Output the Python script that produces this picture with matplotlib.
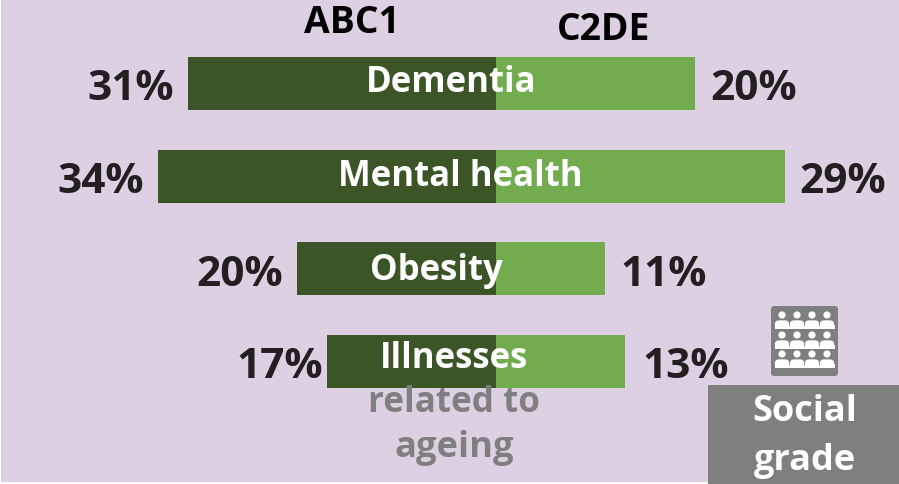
import matplotlib
matplotlib.use("Agg")
import matplotlib.pyplot as plt
from matplotlib.patches import Rectangle, FancyBboxPatch, Circle

categories = ["Dementia", "Mental health", "Obesity", "Illnesses"]
abc1 = [31, 34, 20, 17]
c2de = [20, 29, 11, 13]
series_names = ["ABC1", "C2DE"]
label_center_px = [451, 460, 436, 454]
label_baseline_px = [92, 186, 280, 368]
left_gap_px = [14, 14, 14, 4]
right_gap_px = [15, 15, 15, 17]
BG = "#DDD0E3"; DARK = "#3C5527"; LIGHT = "#72AC4F"; INK = "#231F20"; GREY = "#7F7F7F"
plt.rcParams["font.family"] = ["Open Sans", "DejaVu Sans"]
W, H = 899, 484
fig = plt.figure(figsize=(W/100, H/100), dpi=100, facecolor="white")
PX = 9.95
STEP = 92.67
TOP = 83.5
bg = fig.add_axes([0, 0, 1, 1]); bg.set_xlim(0, W); bg.set_ylim(H, 0); bg.axis("off")
bg.add_patch(Rectangle((1, 0), W, H-2, fc=BG, ec="none"))

ax = fig.add_axes([0, 0, 1, 1], facecolor="none")
ax.set_xlim(-496/PX, (W-496)/PX)
ax.set_ylim((H-TOP)/STEP, -TOP/STEP)
ax.axis("off")
pos = range(len(categories))
ax.barh(pos, [-v for v in abc1], height=53/STEP, color=DARK)
ax.barh(pos, c2de, height=53/STEP, color=LIGHT)
for i, c in enumerate(categories):
    ax.text(-abc1[i]-left_gap_px[i]/PX, i+0.07, f"{abc1[i]}%", ha="right", va="center", fontsize=30.5, fontweight="bold", color=INK)
    ax.text(c2de[i]+right_gap_px[i]/PX, i+0.07, f"{c2de[i]}%", ha="left", va="center", fontsize=30.5, fontweight="bold", color=INK)
    ax.text((label_center_px[i]-496)/PX, (label_baseline_px[i]-TOP)/STEP, c, ha="center", va="baseline",
            fontsize=25, fontweight="bold", color="white")

ov = fig.add_axes([0, 0, 1, 1], facecolor="none"); ov.set_xlim(0, W); ov.set_ylim(H, 0); ov.axis("off")
ov.text(351.5, 23, series_names[0], ha="center", va="center", fontsize=26.8, fontweight="bold", color="black")
ov.text(604, 30, series_names[1], ha="center", va="center", fontsize=26.8, fontweight="bold", color="black")
ov.text(454, 403, "related to", ha="center", va="center", fontsize=25.2, fontweight="bold", color=GREY)
ov.text(454, 448, "ageing", ha="center", va="center", fontsize=26.2, fontweight="bold", color=GREY)
ov.add_patch(Rectangle((708, 385), W-708, H-385, fc=GREY, ec="none"))
ov.text(805, 412, "Social", ha="center", va="center", fontsize=26, fontweight="bold", color="white")
ov.text(805, 461, "grade", ha="center", va="center", fontsize=26, fontweight="bold", color="white")
ov.add_patch(FancyBboxPatch((771, 306), 67, 70, boxstyle="round,pad=0,rounding_size=3", fc=GREY, ec="none"))
for y0 in [315, 335, 354]:
    for x0 in [782, 797, 812, 827]:
        ov.add_patch(Circle((x0, y0), 3.6, fc="white", ec="none"))
        ov.add_patch(FancyBboxPatch((x0-7.5, y0+5), 15, 8.5, boxstyle="round,pad=0,rounding_size=4.5", fc="white", ec=GREY, lw=0.5))
        ov.add_patch(Rectangle((x0-7.5, y0+9.5), 15, 4, fc="white", ec="none"))
fig.savefig("out.png", dpi=100, facecolor="white")
